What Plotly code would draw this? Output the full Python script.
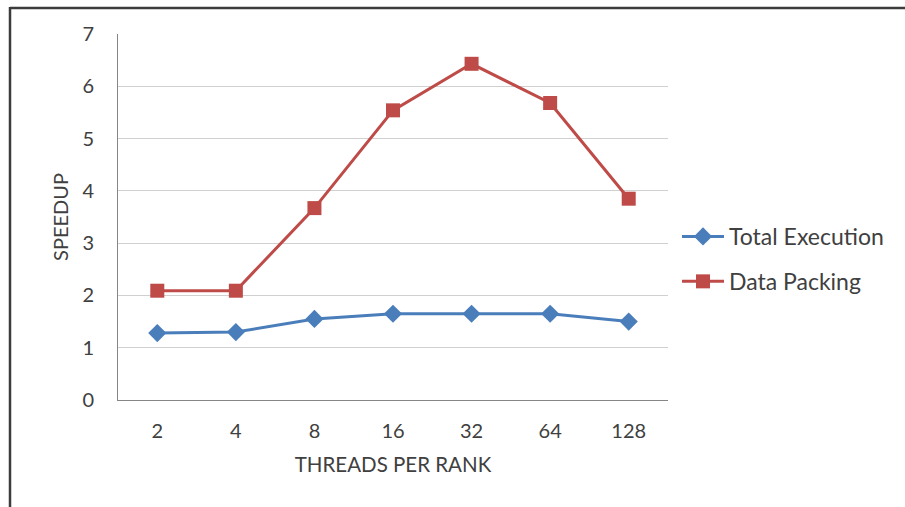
import plotly.graph_objects as go

# Threads per rank (categorical x axis)
threads = ["2", "4", "8", "16", "32", "64", "128"]

# Speedup measurements
total_execution = [1.28, 1.30, 1.55, 1.65, 1.65, 1.65, 1.50]
data_packing = [2.09, 2.09, 3.67, 5.54, 6.43, 5.68, 3.85]

y_ticks = [0, 1, 2, 3, 4, 5, 6, 7]

FONT = "Lato"
TEXT_COLOR = "#404040"
BLUE = "#4a7ebb"
RED = "#be4b48"

fig = go.Figure()

fig.add_trace(go.Scatter(
    x=threads, y=total_execution, name="Total Execution",
    legendgroup="total", mode="lines+markers",
    line=dict(color=BLUE, width=3),
    marker=dict(symbol="diamond", size=14, color=BLUE),
))
fig.add_trace(go.Scatter(
    x=threads, y=data_packing, name="Data Packing",
    legendgroup="packing", mode="lines+markers",
    line=dict(color=RED, width=3),
    marker=dict(symbol="square", size=14, color=RED),
))

W, H = 905, 507
L, R, T, B = 118, 237, 34, 107
pw = W - L - R
ph = H - T - B

def px_x(x):
    return (x - L) / pw

def px_y(y):
    return (H - B - y) / ph

fig.update_layout(
    width=W, height=H,
    margin=dict(l=L, r=R, t=T, b=B, pad=0),
    paper_bgcolor="white", plot_bgcolor="white",
    font=dict(family=FONT, size=20, color=TEXT_COLOR),
    showlegend=True,
    legend=dict(
        x=px_x(677), y=px_y(259), xanchor="left", yanchor="middle",
        font=dict(family=FONT, size=23, color=TEXT_COLOR),
        bgcolor="rgba(0,0,0,0)", itemwidth=42, tracegroupgap=12,
        borderwidth=0,
    ),
    xaxis=dict(
        type="category", categoryorder="array", categoryarray=threads,
        range=[-0.5, len(threads) - 0.5],
        showgrid=False, showline=True, linecolor="#868686", linewidth=1,
        ticks="", ticklabelstandoff=13,
        title=dict(text="THREADS PER RANK", font=dict(size=20.5), standoff=16),
    ),
    yaxis=dict(
        range=[0, 7], tickvals=y_ticks,
        showgrid=True, gridcolor="#d0d0d0", gridwidth=1,
        showline=True, linecolor="#868686", linewidth=1,
        zeroline=False, ticks="", ticklabelstandoff=19,
        title=dict(text="SPEEDUP", font=dict(size=20), standoff=8),
    ),
    shapes=[
        # outer frame: top edge and left edge
        dict(type="line", xref="paper", yref="paper",
             x0=px_x(10), x1=px_x(W + 5), y0=px_y(8), y1=px_y(8),
             line=dict(color="#3c3c3c", width=2.5)),
        dict(type="line", xref="paper", yref="paper",
             x0=px_x(10), x1=px_x(10), y0=px_y(7), y1=px_y(H + 5),
             line=dict(color="#3c3c3c", width=2.5)),
    ],
)

fig.write_html("out.html")
